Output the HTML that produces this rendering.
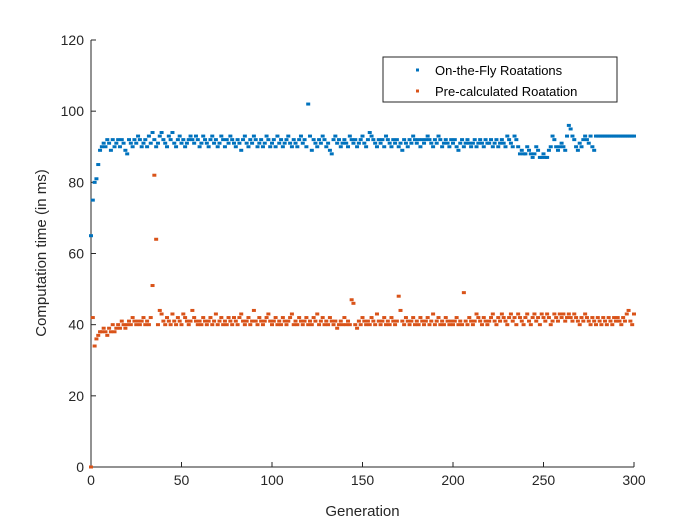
<!DOCTYPE html>
<html><head><meta charset="utf-8"><style>
body{margin:0;background:#fff;}
svg text{font-family:"Liberation Sans",sans-serif;}
</style></head><body>
<svg id="chart" width="700" height="525">
<rect width="700" height="525" fill="#fff"/>
<g id="axes"></g><g id="marks"></g><g id="legend"></g>
</svg>
<script>
const xTicks=[0,50,100,150,200,250,300];
const yTicks=[0,20,40,60,80,100,120];
const seriesNames=["On-the-Fly Roatations","Pre-calculated Roatation"];
const onTheFly=[65,75,80,81,85,89,90,91,90,92,91,89,92,90,91,92,90,92,91,89,
88,92,91,90,92,91,93,92,90,91,92,90,93,91,94,92,90,91,93,94,
92,91,90,93,92,94,91,90,92,93,91,92,90,91,92,93,92,91,93,92,
90,91,93,92,91,90,92,93,91,92,90,91,93,92,90,92,91,93,92,91,
90,92,91,89,92,93,91,90,92,91,93,92,90,91,92,90,91,93,92,90,
91,92,90,93,91,92,90,91,92,93,91,90,92,91,90,92,93,91,92,90,
102,93,89,92,91,90,92,91,93,92,90,91,89,88,92,93,91,92,90,91,
92,91,90,93,92,91,92,90,91,92,93,91,90,92,94,93,92,91,90,92,
91,92,90,93,92,91,90,92,91,92,90,91,89,92,91,90,92,91,93,92,
91,92,90,92,91,92,93,92,91,90,92,91,93,92,90,91,92,91,90,92,
91,92,90,89,91,92,90,91,92,91,90,91,92,90,91,92,91,90,92,91,
91,92,90,91,92,90,91,92,91,90,93,92,91,90,93,92,90,88,89,88,
88,90,89,88,87,88,90,89,87,87,88,87,87,89,90,93,92,90,89,90,
91,90,89,93,96,95,93,92,90,89,91,90,92,93,92,91,93,90,89,93,
93,93,93,93,93,93,93,93,93,93,93,93,93,93,93,93,93,93,93,93,93];
const preCalc=[0,42,34,36,37,38,38,39,38,37,39,38,40,38,39,40,39,41,40,39,
40,41,40,42,41,40,41,40,41,42,40,41,40,42,51,82,64,40,44,43,
41,40,42,41,40,43,41,40,42,41,40,43,42,41,40,41,44,42,41,40,
41,40,42,41,40,41,42,40,41,43,40,41,42,40,41,40,42,41,40,42,
41,40,42,43,41,40,41,42,40,41,44,41,40,42,41,40,41,42,43,41,
40,41,42,40,41,40,42,41,40,41,42,43,40,41,40,42,41,40,41,42,
40,41,40,42,41,43,40,41,42,40,41,40,42,41,40,41,39,40,41,40,
42,40,41,40,47,46,40,39,41,40,42,41,40,41,40,42,41,40,43,41,
40,41,42,40,41,40,42,41,40,41,48,44,41,40,42,41,40,41,42,40,
41,40,42,41,40,41,42,40,41,43,40,41,42,40,41,40,42,41,40,41,
40,41,42,40,41,40,49,41,40,42,41,40,41,43,42,41,40,42,41,40,
41,42,43,41,40,42,41,43,42,41,40,42,43,41,42,40,43,42,41,40,
42,43,41,40,42,43,41,42,40,43,42,41,43,42,40,41,43,42,41,43,
42,43,41,42,43,42,41,43,42,41,40,42,41,43,42,41,40,42,41,40,
42,41,40,42,41,40,42,41,40,42,41,42,41,40,42,41,43,44,41,40,43];
const NS="http://www.w3.org/2000/svg";
const L=91,R=634,T=40,B=467;
const xs=v=>L+(v/300)*(R-L), ys=v=>B-(v/120)*(B-T);
function mk(tag,attrs,parent){const e=document.createElementNS(NS,tag);for(const k in attrs)e.setAttribute(k,attrs[k]);parent.appendChild(e);return e;}
const ax=document.getElementById('axes');
let e=mk('line',{x1:L,y1:B,x2:R,y2:B,stroke:'#262626'},ax);


e=mk('line',{x1:L,y1:T,x2:L,y2:B,stroke:'#262626'},ax);


xTicks.forEach(t=>{
 mk('line',{x1:xs(t),y1:B,x2:xs(t),y2:B-5,stroke:'#262626'},ax);
 const tx=mk('text',{x:xs(t),y:B+18,'text-anchor':'middle','font-size':14,fill:'#262626'},ax);tx.textContent=t;
 
 
});
yTicks.forEach(t=>{
 mk('line',{x1:L,y1:ys(t),x2:L+5,y2:ys(t),stroke:'#262626'},ax);
 const tx=mk('text',{x:L-7,y:ys(t)+5,'text-anchor':'end','font-size':14,fill:'#262626'},ax);tx.textContent=t;
 
 
});
e=mk('text',{x:(L+R)/2,y:516,'text-anchor':'middle','font-size':15,fill:'#262626'},ax);e.textContent='Generation';


e=mk('text',{x:46,y:253,'text-anchor':'middle','font-size':15,fill:'#262626',transform:'rotate(-90 46 253)'},ax);e.textContent='Computation time (in ms)';


const mg=document.getElementById('marks');
[[onTheFly,'#0072BD'],[preCalc,'#D95319']].forEach(([arr,c],si)=>{
 arr.forEach((v,i)=>{
  const p=mk('rect',{x:xs(i)-2,y:ys(v)-1.5,width:4,height:3,fill:c},mg);
  
  
 });
});
const lg=document.getElementById('legend');
e=mk('rect',{x:383,y:57,width:234,height:45,fill:'#fff',stroke:'#262626'},lg);


seriesNames.forEach((n,i)=>{
 const y=70+i*21;
 mk('rect',{x:416,y:y-1.5,width:3,height:3,fill:i?'#D95319':'#0072BD'},lg);
 const tx=mk('text',{x:435,y:y+5,'font-size':13,fill:'#000'},lg);tx.textContent=n;
 
 
});
</script>
</body></html>
